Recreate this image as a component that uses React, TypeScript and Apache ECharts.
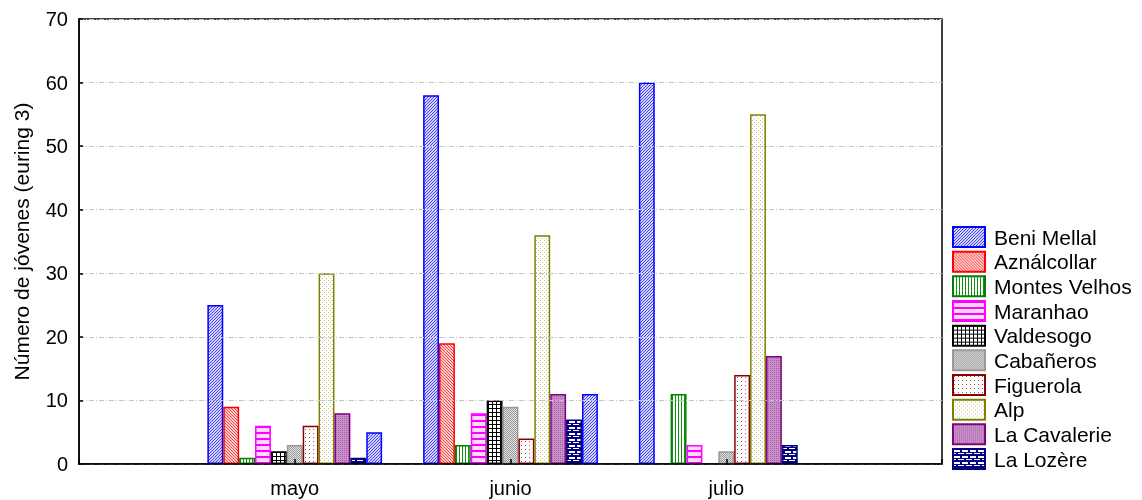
import React, { useEffect, useRef } from "react";
import * as echarts from "echarts";

const categories = ["mayo", "junio", "julio"];
const seriesNames = [
  "Beni Mellal",
  "Aználcollar",
  "Montes Velhos",
  "Maranhao",
  "Valdesogo",
  "Cabañeros",
  "Figuerola",
  "Alp",
  "La Cavalerie",
  "La Lozère",
];
const extraName = "Beni Mellal (2)";

const beniMellal = [25, 58, 60];
const aznalcollar = [9, 19, 0];
const montesVelhos = [1, 3, 11];
const maranhao = [6, 8, 3];
const valdesogo = [2, 10, 0];
const cabaneros = [3, 9, 2];
const figuerola = [6, 4, 14];
const alp = [30, 36, 55];
const laCavalerie = [8, 11, 17];
const laLozere = [1, 7, 3];
const extraSeries = [5, 11, 0];

const yTicks = [0, 10, 20, 30, 40, 50, 60, 70];

type Px = [number, number, number?, number?];

function tile(w: number, h: number, bg: string, fg: string, pixels: Px[]) {
  const c = document.createElement("canvas");
  c.width = w;
  c.height = h;
  const ctx = c.getContext("2d")!;
  ctx.fillStyle = bg;
  ctx.fillRect(0, 0, w, h);
  ctx.fillStyle = fg;
  pixels.forEach(([x, y, pw, ph]) => ctx.fillRect(x, y, pw ?? 1, ph ?? 1));
  return c;
}

export default function App() {
  const ref = useRef<HTMLDivElement>(null);

  useEffect(() => {
    if (!ref.current) return;
    const chart = echarts.init(ref.current, undefined, { renderer: "svg" });

    const pat = (c: HTMLCanvasElement) => ({ image: c, repeat: "repeat" as const });
    const styles = [
      { fill: pat(tile(3, 3, "#d4d4ff", "#4040ff", [[2, 0], [1, 1], [0, 2]])), border: "#0000ff" },
      { fill: pat(tile(3, 3, "#ffd0d0", "#ff4040", [[0, 0], [1, 1], [2, 2]])), border: "#ff0000" },
      { fill: pat(tile(3, 1, "#ffffff", "#109010", [[0, 0]])), border: "#008000" },
      { fill: pat(tile(1, 6, "#ffd8ff", "#ff00ff", [[0, 0, 1, 2]])), border: "#ff00ff" },
      { fill: pat(tile(4, 4, "#ffffff", "#000000", [[0, 0, 4, 1], [0, 0, 1, 4]])), border: "#000000" },
      { fill: pat(tile(2, 2, "#e4e4e4", "#989898", [[0, 0], [1, 1]])), border: "#999999" },
      { fill: pat(tile(4, 4, "#ffffff", "#b04848", [[1, 1]])), border: "#8b0000" },
      { fill: pat(tile(4, 4, "#ffffff", "#c4c47a", [[0, 0], [2, 2]])), border: "#808000" },
      { fill: pat(tile(2, 2, "#c890c8", "#a860a8", [[0, 0]])), border: "#800080" },
      {
        fill: pat(
          tile(8, 6, "#000080", "#ffffff", [
            [1, 1, 6, 2],
            [0, 4, 3, 1],
            [5, 4, 3, 1],
          ])
        ),
        border: "#000080",
      },
    ];

    const allData = [
      beniMellal,
      aznalcollar,
      montesVelhos,
      maranhao,
      valdesogo,
      cabaneros,
      figuerola,
      alp,
      laCavalerie,
      laLozere,
      extraSeries,
    ];
    const allNames = [...seriesNames, extraName];
    const allStyles = [...styles, styles[0]];

    const font = "'Liberation Sans', Arial, sans-serif";

    const series = allData.map((vals, i) => ({
      name: allNames[i],
      type: "bar" as const,
      data: [null, ...vals.map((v) => (v === 0 ? null : v)), null],
      barGap: "0%",
      barCategoryGap: "19%",
      itemStyle: {
        color: allStyles[i].fill,
        borderColor: allStyles[i].border,
        borderWidth: 1.5,
      },
      emphasis: { disabled: true },
    }));

    chart.setOption({
      animation: false,
      textStyle: { fontFamily: font },
      grid: {
        left: 79,
        right: 200,
        top: 19,
        bottom: 36,
        show: true,
        borderColor: "#000",
        borderWidth: 1.5,
        backgroundColor: "transparent",
      },
      legend: {
        data: seriesNames,
        orient: "vertical",
        left: 952,
        top: 226,
        padding: 0,
        itemWidth: 32,
        itemHeight: 20,
        itemGap: 2.67,
        icon: "rect",
        selectedMode: false,
        textStyle: {
          fontFamily: font,
          fontSize: 21,
          color: "#000",
          padding: [0, 0, 0, 4],
        },
      },
      xAxis: {
        type: "category",
        data: ["", ...categories, ""],
        boundaryGap: false,
        z: 10,
        axisLine: { show: true, lineStyle: { color: "#000", width: 1.5 } },
        axisTick: { show: true, inside: true, length: 5, lineStyle: { color: "#000", width: 1.5 } },
        axisLabel: { fontSize: 20, color: "#000", margin: 14, fontFamily: font },
        splitLine: { show: false },
      },
      yAxis: {
        type: "value",
        min: 0,
        max: 70,
        interval: 10,
        z: 10,
        name: "Número de jóvenes (euring 3)",
        nameLocation: "middle",
        nameGap: 47,
        nameTextStyle: { fontSize: 21, color: "#000", fontFamily: font },
        axisLine: { show: true, lineStyle: { color: "#000", width: 1.5 } },
        axisTick: { show: true, inside: true, length: 4, lineStyle: { color: "#000", width: 1.5 } },
        axisLabel: {
          fontSize: 20,
          color: "#000",
          margin: 11,
          fontFamily: font,
          formatter: (v: number) => (yTicks.includes(v) ? String(v) : ""),
        },
        splitLine: {
          show: true,
          lineStyle: { color: "#c4c4c4", width: 1, type: [5, 2, 1, 2] },
        },
      },
      series,
    });

    return () => chart.dispose();
  }, []);

  return (
    <div
      ref={ref}
      style={{ position: "fixed", left: 0, top: 0, width: 1142, height: 500 }}
    />
  );
}
